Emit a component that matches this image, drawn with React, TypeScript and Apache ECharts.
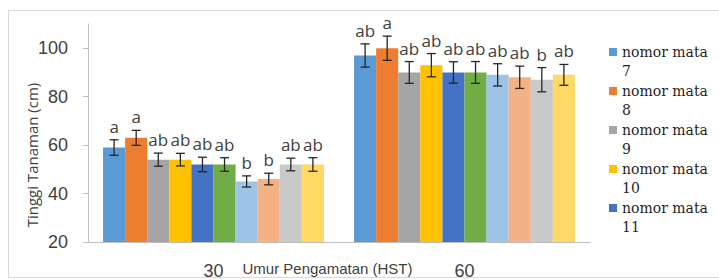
import React, { useEffect, useRef } from "react";
import * as echarts from "echarts";

const categories = ["30", "60"];
const seriesNames = [
  "nomor mata 7",
  "nomor mata 8",
  "nomor mata 9",
  "nomor mata 10",
  "nomor mata 11",
  "nomor mata 12",
  "nomor mata 13",
  "nomor mata 14",
  "nomor mata 15",
  "nomor mata 16",
];
const values30 = [59, 63, 54, 54, 52, 52, 45, 46, 52, 52];
const values60 = [97, 100, 90, 93, 90, 90, 89, 88, 87, 89];
const err30 = [3.2, 3.1, 2.7, 2.6, 3, 2.8, 2.3, 2.4, 2.6, 2.8];
const err60 = [4.8, 5, 4.5, 4.8, 4.4, 4.5, 4.6, 4.6, 5, 4.3];
const letters30 = ["a", "a", "ab", "ab", "ab", "ab", "b", "b", "ab", "ab"];
const letters60 = ["ab", "a", "ab", "ab", "ab", "ab", "ab", "ab", "b", "ab"];
const legendShown = seriesNames.slice(0, 5);

const colors = [
  "#5B9BD5",
  "#ED7D31",
  "#A5A5A5",
  "#FFC000",
  "#4472C4",
  "#70AD47",
  "#9DC3E6",
  "#F4B183",
  "#C9C9C9",
  "#FFD966",
];

const CATEGORY_GAP = 0.12;

export default function App() {
  const ref = useRef<HTMLDivElement>(null);

  useEffect(() => {
    if (!ref.current) return;
    const chart = echarts.init(ref.current, null, { renderer: "svg" });
    const N = seriesNames.length;

    const errRows: number[][] = [];
    const errLetters: string[] = [];
    for (let s = 0; s < N; s++) {
      errRows.push([0, s, values30[s], err30[s]]);
      errLetters.push(letters30[s]);
      errRows.push([1, s, values60[s], err60[s]]);
      errLetters.push(letters60[s]);
    }

    const barSeries = seriesNames.map((name, i) => ({
      name,
      type: "bar",
      data: [values30[i], values60[i]],
      barGap: "0%",
      barCategoryGap: CATEGORY_GAP * 100 + "%",
      itemStyle: { color: colors[i] },
      emphasis: { disabled: true },
    }));

    const option: any = {
      animation: false,
      backgroundColor: "#ffffff",
      color: colors,
      grid: {
        left: 88,
        right: 129,
        top: 24,
        bottom: 38,
        containLabel: false,
        outerBoundsMode: "none",
      },
      legend: {
        data: legendShown,
        orient: "vertical",
        left: 609,
        top: 42,
        padding: 0,
        itemGap: 0,
        itemWidth: 8,
        itemHeight: 39,
        icon: "path://M0,6L8,6L8,14L0,14ZM0,0L0,0M0,39L0,39",
        formatter: (name: string) => name.replace(" mata ", " mata\n"),
        textStyle: {
          fontFamily: "'DejaVu Serif', 'Liberation Serif', serif",
          fontSize: 14,
          lineHeight: 19.5,
          color: "#1f1f1f",
        },
      },
      xAxis: {
        type: "category",
        data: categories,
        name: "Umur Pengamatan (HST)",
        nameLocation: "middle",
        nameGap: 19,
        nameMoveOverlap: false,
        nameTextStyle: {
          fontFamily: "'Liberation Sans', Arial, sans-serif",
          fontSize: 15,
          color: "#404040",
          padding: [0, 23, 0, 0],
        },
        axisLine: { show: true, lineStyle: { color: "#bfbfbf", width: 1 } },
        axisTick: { show: false },
        axisLabel: {
          margin: 20,
          fontFamily: "'Liberation Sans', Arial, sans-serif",
          fontSize: 18,
          color: "#404040",
        },
      },
      yAxis: {
        type: "value",
        min: 20,
        max: 110,
        interval: 20,
        name: "Tinggi Tanaman (cm)",
        nameLocation: "middle",
        nameGap: 49,
        nameRotate: 90,
        nameMoveOverlap: false,
        nameTextStyle: {
          fontFamily: "'Open Sans', sans-serif",
          fontSize: 15,
          color: "#404040",
          padding: [0, 44, 0, 0],
        },
        splitLine: { show: false },
        axisLine: { show: true, lineStyle: { color: "#bfbfbf", width: 1 } },
        axisTick: { show: true, length: 5, lineStyle: { color: "#bfbfbf" } },
        axisLabel: {
          margin: 20,
          showMaxLabel: false,
          fontFamily: "'Liberation Sans', Arial, sans-serif",
          fontSize: 18,
          color: "#404040",
        },
      },
      series: [
        ...barSeries,
        {
          type: "custom",
          name: "error",
          data: errRows,
          z: 10,
          clip: false,
          silent: true,
          renderItem: (params: any, api: any) => {
            const cat = api.value(0);
            const s = api.value(1);
            const v = api.value(2);
            const e = api.value(3);
            const c = api.coord([cat, v]);
            const band = api.size([1, 0])[0];
            const bw = (band * (1 - CATEGORY_GAP)) / N;
            const x = c[0] + (s - (N - 1) / 2) * bw;
            const yTop = api.coord([cat, v + e])[1];
            const yBot = api.coord([cat, v - e])[1];
            const cap = 4.5;
            const st = { stroke: "#262626", lineWidth: 1.3 };
            return {
              type: "group",
              children: [
                { type: "line", shape: { x1: x, y1: yTop, x2: x, y2: yBot }, style: st },
                { type: "line", shape: { x1: x - cap, y1: yTop, x2: x + cap, y2: yTop }, style: st },
                { type: "line", shape: { x1: x - cap, y1: yBot, x2: x + cap, y2: yBot }, style: st },
                {
                  type: "text",
                  x,
                  y: yTop - 5,
                  style: {
                    text: errLetters[params.dataIndex],
                    fontFamily: "'Open Sans', sans-serif",
                    fontSize: 17,
                    fill: "#404040",
                    align: "center",
                    verticalAlign: "bottom",
                  },
                },
              ],
            };
          },
        },
      ],
      graphic: [
        {
          type: "rect",
          z: -10,
          shape: { x: 8.5, y: 10.5, width: 760, height: 267 },
          style: { fill: "none", stroke: "#d9d9d9", lineWidth: 1 },
          silent: true,
        },
      ],
    };

    chart.setOption(option);
    return () => chart.dispose();
  }, []);

  return (
    <div
      ref={ref}
      style={{ position: "fixed", left: 0, top: 0, width: 719, height: 280, background: "#fff" }}
    />
  );
}
